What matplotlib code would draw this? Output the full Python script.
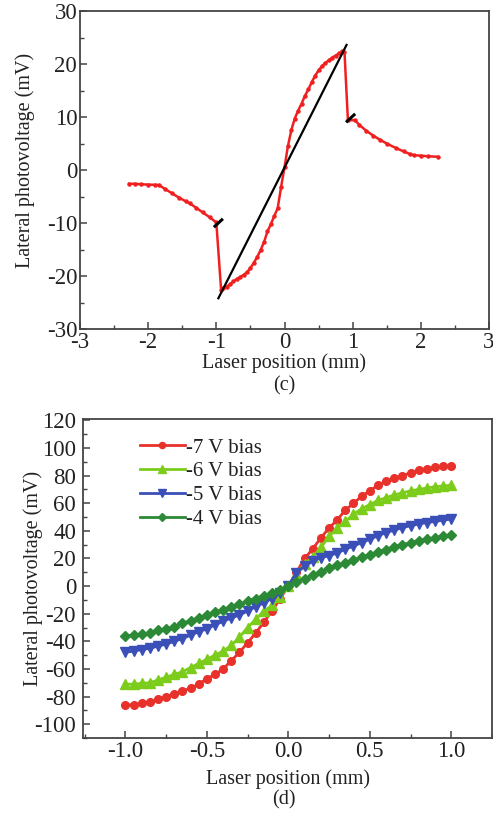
import numpy as np
import matplotlib
matplotlib.use("Agg")
import matplotlib.pyplot as plt
from matplotlib.ticker import MultipleLocator

plt.rcParams['font.family'] = ['Liberation Serif', 'DejaVu Serif']
plt.rcParams['axes.unicode_minus'] = False

# ---- panel (c): lateral photovoltage scan ----
c_x = [-2.28, -2.2, -2.1, -2.0, -1.9, -1.84, -1.75, -1.65, -1.55, -1.45, -1.39, -1.3, -1.2, -1.1, -1.0,
       -0.93, -0.9, -0.85, -0.8, -0.75, -0.7, -0.65, -0.6, -0.55, -0.5, -0.45, -0.4, -0.35, -0.3,
       -0.25, -0.2, -0.15, -0.1, -0.05, 0.0, 0.05, 0.1, 0.15, 0.2, 0.25, 0.3, 0.35, 0.4, 0.45,
       0.5, 0.55, 0.6, 0.65, 0.7, 0.75, 0.8, 0.85, 0.88,
       0.93, 1.03, 1.1, 1.2, 1.3, 1.4, 1.5, 1.64, 1.75, 1.84, 1.9, 2.0, 2.1, 2.25]
c_y = [-2.6, -2.6, -2.7, -2.75, -2.8, -2.85, -3.6, -4.4, -5.2, -5.9, -6.3, -7.1, -8.0, -8.9, -9.9,
       -22.6, -22.3, -22.0, -21.6, -21.0, -20.6, -20.2, -19.8, -19.3, -18.5, -17.5, -16.4, -15.1, -13.6,
       -11.6, -10.2, -8.7, -7.2, -3.2, 0.5, 4.5, 7.5, 9.7, 11.2, 12.5, 14.0, 15.2, 16.6, 17.8,
       18.8, 19.6, 20.2, 20.7, 21.2, 21.6, 22.0, 22.4, 22.3,
       9.4, 9.4, 8.5, 7.4, 6.5, 5.7, 5.0, 4.1, 3.5, 3.0, 2.8, 2.7, 2.6, 2.5]
fit_x = [-0.97, 0.91]
fit_y = [-24.2, 23.6]
mark1_x = [-1.02, -0.92]
mark1_y = [-10.6, -9.4]
mark2_x = [0.92, 1.02]
mark2_y = [9.2, 10.4]

# ---- panel (d): bias dependence ----
pos = np.round(np.arange(-1.0, 1.0001, 0.05), 2)
v7 = [-86, -86, -85, -84, -82, -80, -78, -76, -74, -71, -67, -64, -60, -54, -48, -41, -34, -26, -18, -9,
      0, 10, 20, 27, 35, 42, 48, 55, 60, 65, 69, 73, 76, 78, 80, 82, 84, 85, 86, 87, 87]
v6 = [-71, -71, -70.5, -70, -68, -66, -64, -62, -59, -56, -53, -50, -47, -43, -37, -30, -24, -18, -14, -8,
      0, 9, 16, 21, 28, 36, 42, 47, 52, 56, 59, 62, 64, 66, 67.5, 69, 70, 71, 72, 72.5, 73]
v5 = [-48, -47, -46, -45, -43.5, -42, -40, -38, -35.5, -33, -31, -28, -25.5, -23, -21, -18, -15, -12, -9, -5,
      0, 9.7, 14.6, 18, 20.6, 22, 24, 26.7, 29, 31.5, 34, 36.4, 38.8, 40.5, 42.4, 43.7, 45, 46, 46.8, 47.8, 48.5]
v4 = [-36, -35.5, -35, -34, -32, -31, -29.5, -27, -25, -23, -21, -19, -17, -15, -13, -11, -9, -7, -5, -3,
      0, 3, 5.5, 8, 10.5, 13, 15, 17, 19, 21, 22.5, 24.5, 26.5, 28.5, 30, 31.5, 33, 34, 35, 36, 37]
labels = ['-7 V bias', '-6 V bias', '-5 V bias', '-4 V bias']

fig = plt.figure(figsize=(4.93, 8.16), dpi=100)
spine_col = '#444444'
txt_col = '#222222'

def style(ax, tick_fs, ypad):
    for s in ax.spines.values():
        s.set_color(spine_col)
        s.set_linewidth(1.3)
    ax.tick_params(which='both', direction='in', top=False, right=False, colors=spine_col,
                   labelcolor=txt_col, labelsize=tick_fs)
    ax.tick_params(which='major', length=5, width=1.1)
    ax.tick_params(which='minor', length=3, width=1.0)
    ax.tick_params(axis='x', pad=2)
    ax.tick_params(axis='y', pad=ypad)

# top panel
ax1 = fig.add_axes([80/493, 1-329/816, 409/493, 318/816])
ax1.plot(c_x, c_y, color='#f02020', lw=1.8, marker='o', ms=2.2, zorder=3)
ax1.plot(fit_x, fit_y, color='black', lw=1.6, zorder=4)
ax1.plot(mark1_x, mark1_y, color='black', lw=2.2, zorder=5)
ax1.plot(mark2_x, mark2_y, color='black', lw=2.2, zorder=5)
ax1.set_xlim(-3, 3)
ax1.set_ylim(-30, 30)
ax1.xaxis.set_major_locator(MultipleLocator(1))
ax1.xaxis.set_minor_locator(MultipleLocator(0.5))
ax1.yaxis.set_major_locator(MultipleLocator(10))
ax1.yaxis.set_minor_locator(MultipleLocator(5))
style(ax1, 16.5, 2)
ax1.set_xlabel('Laser position (mm)', fontsize=14.5, color=txt_col, va='center')
ax1.set_ylabel('Lateral photovoltage (mV)', fontsize=14.5, color=txt_col, va='center')
ax1.xaxis.set_label_coords(0.5, (329-363)/318)
ax1.yaxis.set_label_coords((25-80)/409, (329-160)/318)
fig.text(284/493, 1-386/816, '(c)', ha='center', va='center', fontsize=14.5, color=txt_col)

# bottom panel
ax2 = fig.add_axes([83/493, 1-738/816, 409/493, 319/816])
colors = ['#e8312b', '#7ccc1c', '#3b4fb8', '#2c8a36']
markers = ['o', '^', 'v', 'D']
sizes = [5.5, 6.5, 6.5, 5.0]
for vals, col, mk, ms, lab in zip([v7, v6, v5, v4], colors, markers, sizes, labels):
    ax2.plot(pos, vals, color=col, lw=2.0, marker=mk, ms=ms, label=lab)
ax2.set_xlim(-1.26, 1.25)
ax2.set_ylim(-110, 121)
ax2.xaxis.set_major_locator(MultipleLocator(0.5))
ax2.xaxis.set_minor_locator(MultipleLocator(0.25))
ax2.yaxis.set_major_locator(MultipleLocator(20))
ax2.yaxis.set_minor_locator(MultipleLocator(10))
ax2.xaxis.set_major_formatter(matplotlib.ticker.FormatStrFormatter('%.1f'))
style(ax2, 16.5, 5)
ax2.set_xlabel('Laser position (mm)', fontsize=14.5, color=txt_col, va='center')
ax2.set_ylabel('Lateral photovoltage (mV)', fontsize=14.5, color=txt_col, va='center')
ax2.xaxis.set_label_coords(0.5, (738-779)/319)
ax2.yaxis.set_label_coords((33-83)/409, 0.5)
fig.text(284/493, 1-800/816, '(d)', ha='center', va='center', fontsize=14.5, color=txt_col)

leg = ax2.legend(loc='upper left', bbox_to_anchor=(140/493, 1-438/816), bbox_transform=fig.transFigure,
                 frameon=False, fontsize=15, handlelength=2.15, handletextpad=0.05, labelspacing=0.2,
                 borderpad=0, borderaxespad=0, numpoints=1, markerscale=0.8)
for t in leg.get_texts():
    t.set_color(txt_col)

fig.savefig('out.png', dpi=100)
